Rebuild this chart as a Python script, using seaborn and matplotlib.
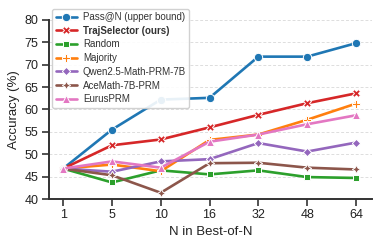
import numpy as np
import pandas as pd
import matplotlib
matplotlib.use("Agg")
import matplotlib.pyplot as plt
import seaborn as sns

### Data
n_values = ["1", "5", "10", "16", "32", "48", "64"]

pass_at_n = [46.8, 55.5, 62.2, 62.6, 71.8, 71.8, 74.8]
traj_selector = [46.8, 52.0, 53.3, 56.0, 58.8, 61.4, 63.6]
random_sel = [46.8, 43.7, 46.4, 45.5, 46.4, 44.9, 44.7]
majority = [46.8, 47.7, 46.2, 53.2, 54.4, 57.7, 61.3]
qwen_prm = [46.8, 46.1, 48.4, 48.9, 52.5, 50.6, 52.6]
acemath_prm = [46.8, 45.3, 41.4, 48.0, 48.1, 47.0, 46.6]
eurus_prm = [46.8, 48.4, 47.0, 52.8, 54.4, 56.7, 58.7]

methods = ["Pass@N (upper bound)", "TrajSelector (ours)", "Random", "Majority",
           "Qwen2.5-Math-PRM-7B", "AceMath-7B-PRM", "EurusPRM"]
series = [pass_at_n, traj_selector, random_sel, majority, qwen_prm, acemath_prm, eurus_prm]
colors = ["#1f77b4", "#d62728", "#2ca02c", "#ff7f0e", "#9467bd", "#8c564b", "#e377c2"]

rows = []
for m, vals in zip(methods, series):
    for n, v in zip(n_values, vals):
        rows.append({"N": n, "Accuracy": v, "Method": m})
df = pd.DataFrame(rows)

### Plot
sns.set_theme(style="ticks")
plt.rcParams["font.family"] = ["Liberation Sans", "DejaVu Sans"]

fig, ax = plt.subplots(figsize=(3.8, 2.46), dpi=100)
fig.subplots_adjust(left=0.129, right=0.979, top=0.919, bottom=0.191)

sns.lineplot(data=df, x="N", y="Accuracy", hue="Method", style="Method",
             hue_order=methods, style_order=methods,
             palette=dict(zip(methods, colors)), markers=True, dashes=False,
             sort=False, linewidth=1.9, markersize=6, markeredgecolor="white",
             markeredgewidth=0.7, ax=ax)

ax.set_xlim(-0.29, 6.33)
ax.set_ylim(40, 80)
ax.set_yticks(np.arange(40, 81, 5))
ax.yaxis.grid(True, linestyle=(0, (3, 2)), color="#dddddd", linewidth=0.7)
ax.set_axisbelow(True)
sns.despine(ax=ax)
for sp in ["left", "bottom"]:
    ax.spines[sp].set_linewidth(1.4)
    ax.spines[sp].set_color("#333333")
ax.tick_params(axis="both", labelsize=9, length=5, width=1.2, color="#333333",
               labelcolor="#222222", pad=2.5)
ax.set_xlabel("N in Best-of-N", fontsize=9.5, labelpad=3, color="#222222")
ax.set_ylabel("Accuracy (%)", fontsize=9.5, labelpad=3, color="#222222")

leg = ax.legend(loc="upper left", bbox_to_anchor=(-0.005, 1.09), fontsize=7,
                labelspacing=0.38, handlelength=2.2, handletextpad=0.6,
                borderpad=0.35, frameon=True, framealpha=0.9)
leg.get_frame().set_edgecolor("#cccccc")
for t in leg.get_texts():
    t.set_color("#333333")
    if t.get_text().startswith("TrajSelector"):
        t.set_fontweight("bold")

plt.savefig("out.png", dpi=100)
